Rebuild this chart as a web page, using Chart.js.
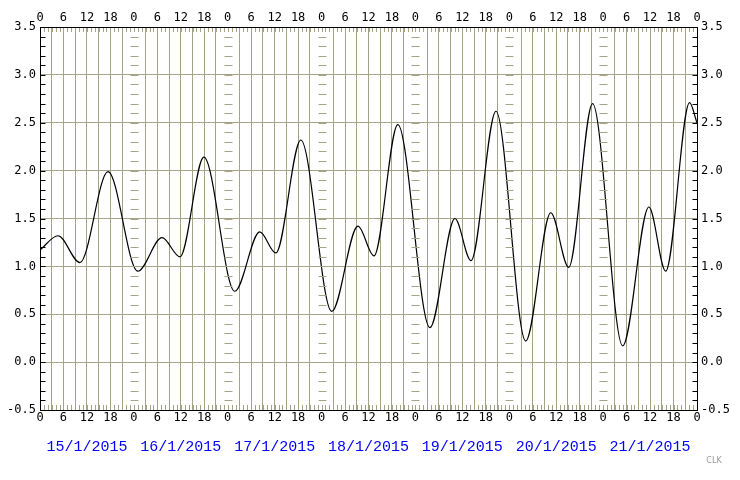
<!DOCTYPE html>
<html lang="en">
<head>
  <meta charset="utf-8">
  <title>Tide</title>
  <script src="https://cdn.jsdelivr.net/npm/chart.js"></script>
  <style>body{margin:0;background:#fff}#wrap{width:740px;height:480px}</style>
</head>
<body>
  <div id="wrap"><canvas id="tide"></canvas></div>
  <script>
    // hours since 15/1/2015 00:00 and water level at turning points
    const hours = [0, 4.6, 10.2, 17.4, 25, 31.2, 35.8, 41.9, 49.8, 56.2, 60.3, 66.7, 74.6, 81.3, 85.4, 91.5,
      99.7, 106.1, 110.2, 116.6, 124.2, 130.6, 135.2, 141.3, 149, 155.7, 160, 166.1, 168];
    const levels = [1.17, 1.32, 1.04, 1.99, 0.95, 1.30, 1.10, 2.14, 0.74, 1.36, 1.14, 2.32, 0.53, 1.42, 1.11, 2.48,
      0.36, 1.50, 1.06, 2.62, 0.22, 1.56, 0.99, 2.70, 0.17, 1.62, 0.95, 2.71, 2.50];
    const dates = ['15/1/2015', '16/1/2015', '17/1/2015', '18/1/2015', '19/1/2015', '20/1/2015', '21/1/2015'];

    const gridCol = '#a5a386';
    const font = { family: 'DejaVu Sans Mono', size: 12 };

    const hourTicks = {
      stepSize: 3, autoSkip: false, maxRotation: 0, color: '#000', font,
      callback: v => (v % 6 === 0 ? String(v % 24) : '')
    };

    const extras = {
      id: 'extras',
      afterDraw(chart) {
        const c = chart.ctx, x = chart.scales.x, y = chart.scales.y, a = chart.chartArea;
        c.save();
        c.strokeStyle = gridCol; c.lineWidth = 1;
        // hourly minor ticks top and bottom
        for (let h = 0; h <= 168; h++) {
          const px = Math.round(x.getPixelForValue(h)) + 0.5;
          c.beginPath(); c.moveTo(px, a.top); c.lineTo(px, a.top + 5);
          c.moveTo(px, a.bottom); c.lineTo(px, a.bottom - 5); c.stroke();
        }
        // 0.1 ticks on the day lines and sides
        for (let d = 0; d <= 7; d++) {
          const px = Math.round(x.getPixelForValue(d * 24)) + 0.5;
          for (let k = 0; k <= 40; k++) {
            const py = Math.round(y.getPixelForValue(-0.5 + k * 0.1)) + 0.5;
            c.strokeStyle = (d === 0 || d === 7) ? '#000' : gridCol;
            c.beginPath();
            if (d === 0) { c.moveTo(px, py); c.lineTo(px + 5, py); }
            else if (d === 7) { c.moveTo(px, py); c.lineTo(px - 5, py); }
            else { c.moveTo(px - 4, py); c.lineTo(px + 4, py); }
            c.stroke();
          }
        }
        c.strokeStyle = '#000';
        c.strokeRect(Math.round(a.left) + 0.5, Math.round(a.top) + 0.5, Math.round(a.right - a.left), Math.round(a.bottom - a.top));
        // date labels
        c.fillStyle = '#0000ff';
        c.font = '15px "Liberation Mono"';
        c.textAlign = 'center'; c.textBaseline = 'middle';
        dates.forEach((d, i) => c.fillText(d, x.getPixelForValue(i * 24 + 12), 447));
        c.fillStyle = '#999'; c.font = '8px "DejaVu Sans"';
        c.fillText('CLK', 714, 461);
        c.restore();
      }
    };

    new Chart(document.getElementById('tide'), {
      type: 'line',
      data: {
        datasets: [{
          data: hours.map((h, i) => ({ x: h, y: levels[i] })),
          borderColor: '#000', borderWidth: 1.2, pointRadius: 0,
          cubicInterpolationMode: 'monotone', fill: false
        }]
      },
      options: {
        responsive: true, maintainAspectRatio: false, animation: false,
        layout: { padding: 0 },
        plugins: { legend: { display: false }, tooltip: { enabled: false } },
        scales: {
          x: {
            type: 'linear', position: 'bottom', min: 0, max: 168,
            ticks: { ...hourTicks, padding: 1 },
            grid: {
              color: ctx => (ctx.tick && ctx.tick.value % 24 === 0 ? 'transparent' : gridCol),
              drawTicks: false, lineWidth: 1
            },
            border: { display: false },
            afterFit: s => { s.height = 70; }
          },
          x2: {
            type: 'linear', position: 'top', min: 0, max: 168,
            ticks: { ...hourTicks, padding: 2 },
            grid: { display: false, drawTicks: false },
            border: { display: false },
            afterFit: s => { s.height = 27; }
          },
          y: {
            min: -0.5, max: 3.5,
            ticks: { stepSize: 0.5, color: '#000', font, padding: 4, callback: v => v.toFixed(1) },
            grid: { color: gridCol, drawTicks: false },
            border: { display: false },
            afterFit: s => { s.width = 40; }
          },
          y2: {
            position: 'right', min: -0.5, max: 3.5,
            ticks: { stepSize: 0.5, color: '#000', font, padding: 4, callback: v => v.toFixed(1) },
            grid: { display: false, drawTicks: false },
            border: { display: false },
            afterFit: s => { s.width = 43; }
          }
        }
      },
      plugins: [extras]
    });
  </script>
</body>
</html>
